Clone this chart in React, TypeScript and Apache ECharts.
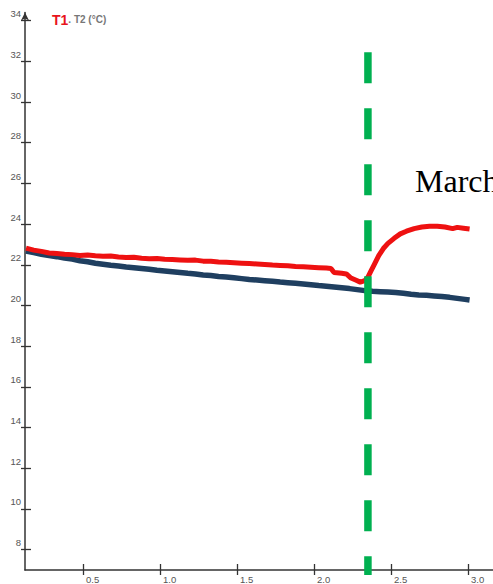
import React, { useEffect, useRef } from "react";
import * as echarts from "echarts";

const xTicks = [0.5, 1.0, 1.5, 2.0, 2.5, 3.0];
const yTicks = [8, 10, 12, 14, 16, 18, 20, 22, 24, 26, 28, 30, 32, 34];

const t1X = [0.13, 0.18, 0.23, 0.28, 0.33, 0.38, 0.43, 0.48, 0.53, 0.58, 0.63, 0.68, 0.73, 0.78, 0.83, 0.88, 0.93, 0.98, 1.03, 1.08, 1.13, 1.18, 1.23, 1.28, 1.33, 1.38, 1.43, 1.48, 1.53, 1.58, 1.63, 1.68, 1.73, 1.78, 1.83, 1.88, 1.93, 1.98, 2.03, 2.08, 2.11, 2.13, 2.18, 2.21, 2.24, 2.27, 2.3, 2.33, 2.35, 2.37, 2.39, 2.42, 2.45, 2.48, 2.52, 2.56, 2.6, 2.65, 2.7, 2.75, 2.8, 2.85, 2.9, 2.93, 2.97, 3.01];
const t1Y = [22.82, 22.72, 22.66, 22.58, 22.55, 22.52, 22.5, 22.46, 22.48, 22.44, 22.42, 22.43, 22.38, 22.36, 22.37, 22.32, 22.3, 22.31, 22.27, 22.26, 22.24, 22.22, 22.23, 22.18, 22.17, 22.14, 22.12, 22.1, 22.08, 22.06, 22.04, 22.02, 21.99, 21.97, 21.95, 21.92, 21.9, 21.88, 21.86, 21.84, 21.82, 21.62, 21.58, 21.55, 21.35, 21.25, 21.15, 21.22, 21.4, 21.7, 22.0, 22.45, 22.8, 23.05, 23.3, 23.52, 23.65, 23.78, 23.86, 23.9, 23.9, 23.86, 23.78, 23.84, 23.8, 23.76];

const t2X = [0.13, 0.18, 0.23, 0.28, 0.33, 0.38, 0.43, 0.48, 0.53, 0.58, 0.63, 0.68, 0.73, 0.78, 0.83, 0.88, 0.93, 0.98, 1.03, 1.08, 1.13, 1.18, 1.23, 1.28, 1.33, 1.38, 1.43, 1.48, 1.53, 1.58, 1.63, 1.68, 1.73, 1.78, 1.83, 1.88, 1.93, 1.98, 2.03, 2.08, 2.13, 2.18, 2.23, 2.28, 2.33, 2.38, 2.43, 2.48, 2.53, 2.58, 2.63, 2.68, 2.73, 2.78, 2.83, 2.88, 2.93, 2.98, 3.01];
const t2Y = [22.68, 22.6, 22.52, 22.45, 22.4, 22.33, 22.28, 22.2, 22.15, 22.08, 22.03, 21.98, 21.94, 21.89, 21.86, 21.82, 21.78, 21.73, 21.7, 21.66, 21.62, 21.58, 21.55, 21.5, 21.47, 21.43, 21.4, 21.36, 21.32, 21.28, 21.25, 21.22, 21.19, 21.15, 21.12, 21.09, 21.06, 21.02, 20.98, 20.95, 20.91, 20.87, 20.83, 20.78, 20.73, 20.7, 20.68, 20.66, 20.64, 20.6, 20.55, 20.52, 20.5, 20.47, 20.44, 20.4, 20.35, 20.3, 20.27];

const markerX = [2.35, 2.35];
const markerY = [32.45, 6.75];

const zip = (xs: number[], ys: number[]) => xs.map((x, i) => [x, ys[i]]);

export default function App() {
  const ref = useRef<HTMLDivElement>(null);
  useEffect(() => {
    document.body.style.margin = "0";
    const chart = echarts.init(ref.current!, undefined, { renderer: "svg" });
    const axisColor = "#333";
    const labelStyle = { color: "#555", fontSize: 9.5, fontFamily: "Arial, 'Liberation Sans', sans-serif" };
    chart.setOption({
      animation: false,
      backgroundColor: "#fff",
      grid: { left: 25, right: 0, top: 12.5, bottom: 12, containLabel: false },
      title: {
        left: 47,
        top: 8,
        text: "{a|T1}{b|. T2 (°C)}",
        textStyle: {
          rich: {
            a: { color: "#e8141c", fontSize: 14, fontWeight: "bold", fontFamily: "Arial, 'Liberation Sans', sans-serif" },
            b: { color: "#777", fontSize: 10, fontFamily: "Arial, 'Liberation Sans', sans-serif", padding: [0, 0, 2, 0] },
          },
        },
      },
      xAxis: [
        {
          type: "value",
          min: 0.1234,
          max: 3.162,
          splitLine: { show: false },
          axisLine: { show: true, onZero: false, lineStyle: { color: axisColor, width: 1.5 } },
          axisTick: { show: true, inside: false, length: 5, customValues: xTicks, lineStyle: { color: axisColor, width: 1.3 } },
          axisLabel: {
            ...labelStyle,
            customValues: xTicks,
            align: "left",
            verticalAlign: "top",
            margin: 4,
            padding: [0, 0, 0, 3],
            formatter: (v: number) => v.toFixed(1),
          },
        },
        {
          type: "value",
          min: 0.1234,
          max: 3.162,
          position: "bottom",
          splitLine: { show: false },
          axisLine: { show: false, onZero: false },
          axisTick: { show: true, inside: true, length: 6, customValues: xTicks, lineStyle: { color: axisColor, width: 1.3 } },
          axisLabel: { show: false },
        },
      ],
      yAxis: [
        {
          type: "value",
          min: 7,
          max: 34.4,
          splitLine: { show: false },
          axisLine: {
            show: true,
            onZero: false,
            symbol: ["none", "arrow"],
            symbolSize: [6, 8],
            lineStyle: { color: axisColor, width: 1.5 },
          },
          axisTick: { show: true, inside: false, length: 4, customValues: yTicks, lineStyle: { color: axisColor, width: 1.3 } },
          axisLabel: {
            ...labelStyle,
            customValues: yTicks,
            align: "right",
            verticalAlign: "bottom",
            margin: 4,
            padding: [0, 0, 2, 0],
          },
        },
        {
          type: "value",
          min: 7,
          max: 34.4,
          position: "left",
          splitLine: { show: false },
          axisLine: { show: false, onZero: false },
          axisTick: { show: true, inside: true, length: 6, customValues: yTicks, lineStyle: { color: axisColor, width: 1.3 } },
          axisLabel: { show: false },
        },
      ],
      series: [
        {
          name: "T2",
          type: "line",
          data: zip(t2X, t2Y),
          showSymbol: false,
          lineStyle: { color: "#1f3f60", width: 5.5 },
          z: 2,
        },
        {
          name: "T1",
          type: "line",
          data: zip(t1X, t1Y),
          showSymbol: false,
          lineStyle: { color: "#ee1111", width: 5 },
          z: 3,
        },
        {
          name: "marker",
          type: "line",
          data: zip(markerX, markerY),
          showSymbol: false,
          clip: false,
          lineStyle: { color: "#00b050", width: 7.5, type: [31, 25], cap: "butt" },
          z: 4,
        },
      ],
      graphic: [
        {
          type: "text",
          x: 415,
          y: 181,
          style: {
            text: "March",
            font: "32px 'Liberation Serif', 'Times New Roman', serif",
            fill: "#000",
            verticalAlign: "middle",
            align: "left",
          },
        },
      ],
    });
    return () => chart.dispose();
  }, []);
  return <div ref={ref} style={{ position: "absolute", left: 0, top: 0, width: 493, height: 584 }} />;
}
